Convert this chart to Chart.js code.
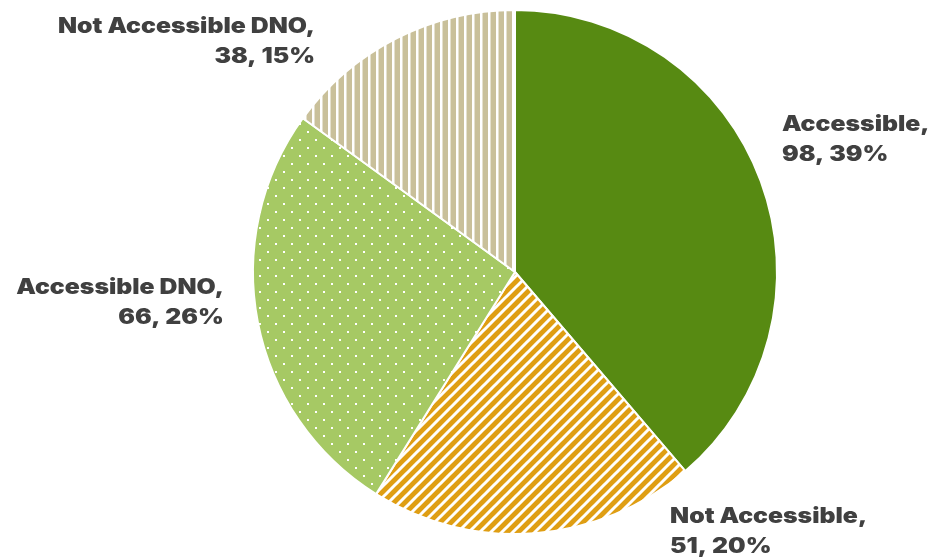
<!DOCTYPE html>
<html>
<head>
<meta charset="utf-8">
<script src="https://cdn.jsdelivr.net/npm/chart.js@4"></script>
<style>
  html, body { margin: 0; padding: 0; background: #ffffff; }
  #wrap { width: 928px; height: 557px; }
</style>
</head>
<body>
<div id="wrap"><canvas id="accessPie" width="928" height="557"></canvas></div>
<script>
// chart data
const categories = ['Accessible', 'Not Accessible', 'Accessible DNO', 'Not Accessible DNO'];
const counts = [98, 51, 66, 38];

// where each label sits, relative to the pie centre, in units of the radius
const labelSpots = [
    { dx: 1.019, dy: -0.504, align: 'left' },
    { dx: 0.592, dy: 0.990, align: 'left' },
    { dx: -1.111, dy: 0.118, align: 'right' },
    { dx: -0.763, dy: -0.878, align: 'right' }
];

// build a fill pattern on a small canvas
function makePattern(size, draw) {
    let c = document.createElement('canvas');
    c.width = size;
    c.height = size;
    let g = c.getContext('2d');
    draw(g, size);
    return g.createPattern(c, 'repeat');
}

// solid dark green
const solidGreen = '#578a12';

// orange with white upward diagonal stripes
const diagOrange = makePattern(11, function(g, s) {
    g.fillStyle = '#df9e13';
    g.fillRect(0, 0, s, s);
    g.strokeStyle = '#ffffff';
    g.lineWidth = 3;
    g.beginPath();
    g.moveTo(-s, s); g.lineTo(s, -s);
    g.moveTo(0, 2 * s); g.lineTo(2 * s, 0);
    g.moveTo(0, s); g.lineTo(s, 0);
    g.stroke();
});

// light green with small white dots
const dotGreen = makePattern(16, function(g, s) {
    g.fillStyle = '#a6c964';
    g.fillRect(0, 0, s, s);
    g.fillStyle = '#ffffff';
    g.fillRect(3, 3, 2, 2);
    g.fillRect(11, 11, 2, 2);
});

// tan with white vertical stripes
const vertTan = makePattern(8, function(g, s) {
    g.fillStyle = '#c9c09a';
    g.fillRect(0, 0, s, s);
    g.fillStyle = '#ffffff';
    g.fillRect(0, 0, 2.5, s);
});

const total = counts.reduce((a, b) => a + b, 0);

// the label font in the original is a wide black face, so stretch Inter Black a bit
const stretchX = 1.18;

// draws the outside labels ("name," / "value, pct%")
const outsideLabels = {
    id: 'outsideLabels',
    afterDatasetsDraw(chart) {
        let ctx = chart.ctx;
        let arcs = chart.getDatasetMeta(0).data;
        ctx.save();
        ctx.font = '900 21px Inter, "DejaVu Sans", sans-serif';
        ctx.fillStyle = '#404040';
        ctx.textBaseline = 'middle';
        arcs.forEach(function(arc, i) {
            let spot = labelSpots[i];
            let r = arc.outerRadius;
            let x = arc.x + spot.dx * r;
            let y = arc.y + spot.dy * r;
            let pct = Math.round(counts[i] / total * 100);
            ctx.save();
            ctx.translate(x, y);
            ctx.scale(stretchX, 1);
            ctx.textAlign = spot.align;
            ctx.fillText(categories[i] + ',', 0, -15);
            ctx.fillText(counts[i] + ', ' + pct + '%', 0, 15);
            ctx.restore();
        });
        ctx.restore();
    }
};

let ctx = document.getElementById('accessPie').getContext('2d');
let pieChart = new Chart(ctx, {
    type: 'pie',
    data: {
        labels: categories,
        datasets: [{
            data: counts,
            backgroundColor: [solidGreen, diagOrange, dotGreen, vertTan],
            borderColor: '#ffffff',
            borderWidth: 2
        }]
    },
    options: {
        responsive: false,
        animation: false,
        layout: { padding: { top: 9, bottom: 22, left: 102, right: 0 } },
        plugins: {
            legend: { display: false },
            tooltip: { enabled: false }
        }
    },
    plugins: [outsideLabels]
});
</script>
</body>
</html>
